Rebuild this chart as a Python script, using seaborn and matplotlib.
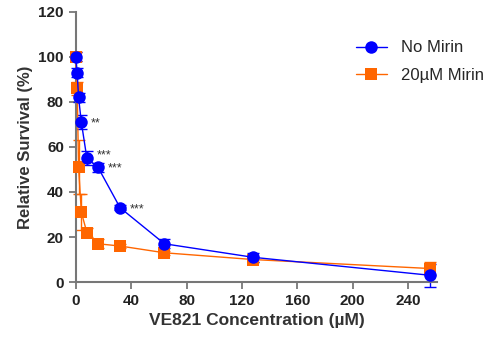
import pandas as pd
import matplotlib.pyplot as plt
import seaborn as sns

# --- data ---
conc = [0, 1, 2, 4, 8, 16, 32, 64, 128, 256]
no_mirin = [100, 93, 82, 71, 55, 51, 33, 17, 11, 3]
no_mirin_err = [2, 2, 2, 3, 3, 2, 1, 2, 2, 5]
mirin = [100, 86, 51, 31, 22, 17, 16, 13, 10, 6]
mirin_err = [2, 3, 12, 8, 2, 2, 1, 1, 1, 3]
stars = ["", "", "", "**", "***", "***", "***", "", "", ""]

df = pd.DataFrame({
    "conc": conc * 2,
    "survival": no_mirin + mirin,
    "err": no_mirin_err + mirin_err,
    "group": ["No Mirin"] * len(conc) + ["20µM Mirin"] * len(conc),
})
colors = {"No Mirin": "#0000FF", "20µM Mirin": "#FF6600"}
markers = {"No Mirin": "o", "20µM Mirin": "s"}

sns.set_style("white")
plt.rcParams["font.family"] = ["Liberation Sans", "DejaVu Sans"]

fig, ax = plt.subplots(figsize=(4.89, 3.39), dpi=100)
fig.subplots_adjust(left=0.155, right=0.894, bottom=0.168, top=0.965)

# draw orange first so blue sits on top
for name in ["20µM Mirin", "No Mirin"]:
    sub = df[df["group"] == name]
    ax.errorbar(sub["conc"], sub["survival"], yerr=sub["err"], fmt="none",
                ecolor=colors[name], elinewidth=1, capsize=4, clip_on=False, zorder=2)
    sns.lineplot(data=sub, x="conc", y="survival", color=colors[name],
                 marker=markers[name], markersize=9, markeredgewidth=0,
                 linewidth=1, label=name, ax=ax, clip_on=False, zorder=3)

# significance marks, offset in points to the right of each blue marker
for x, y, s in zip(conc, no_mirin, stars):
    if s:
        lift = 3 if s == "***" and x == 8 else 0
        ax.annotate(s, (x, y), xytext=(7, lift - 1), textcoords="offset points",
                    fontsize=9, va="center", ha="left", color="#333333")

ax.set_xlim(0, 261)
ax.set_ylim(0, 120)
ax.set_xticks(range(0, 241, 40))
ax.set_yticks(range(0, 121, 20))
ax.set_xlabel("VE821 Concentration (µM)", fontsize=12.5, fontweight="bold", color="#333333")
ax.set_ylabel("Relative Survival (%)", fontsize=12, fontweight="bold", color="#333333")
ax.tick_params(axis="both", direction="out", length=5, width=1.3, color="#777777",
               labelsize=11, labelcolor="#222222", left=True, bottom=True)
for lab in ax.get_xticklabels() + ax.get_yticklabels():
    lab.set_fontweight("bold")
for side in ["top", "right"]:
    ax.spines[side].set_visible(False)
for side in ["left", "bottom"]:
    ax.spines[side].set_color("#777777")
    ax.spines[side].set_linewidth(1.5)

handles, labels = ax.get_legend_handles_labels()
order = [labels.index("No Mirin"), labels.index("20µM Mirin")]
ax.legend([handles[i] for i in order], [labels[i] for i in order],
          loc="upper right", bbox_to_anchor=(1.17, 0.95), frameon=False, fontsize=12,
          labelspacing=0.75, handlelength=1.9)

fig.savefig("out.png", dpi=100)
